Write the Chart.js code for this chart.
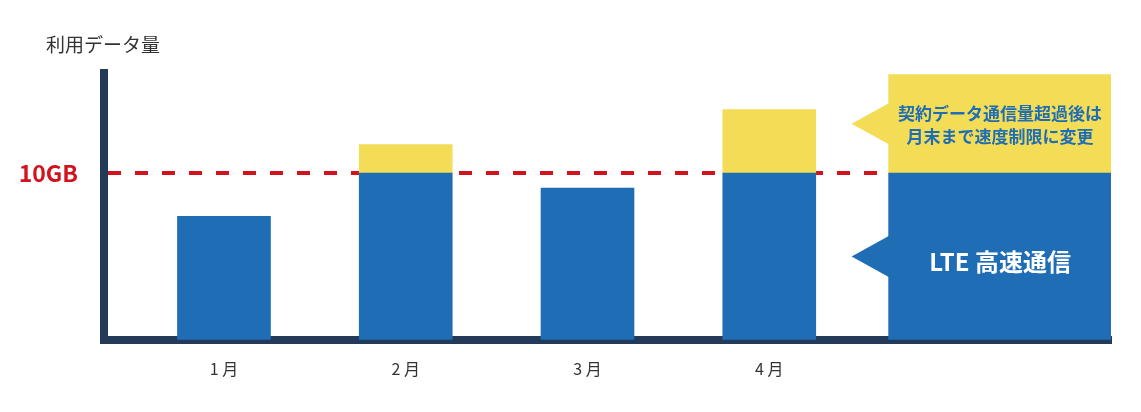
<!DOCTYPE html>
<html lang="ja">
<head>
<meta charset="utf-8">
<title>利用データ量</title>
<script src="https://cdn.jsdelivr.net/npm/chart.js@4.4.1/dist/chart.umd.min.js"></script>
<style>
  html, body { margin: 0; padding: 0; background: #fff; }
  #wrap { width: 1141px; height: 412px; }
</style>
</head>
<body>
<div id="wrap"><canvas id="usageChart"></canvas></div>
<script>
// データ (GB)
const MONTHS = ['1 月', '2 月', '3 月', '4 月'];
const USAGE = [7.4, 11.7, 9.1, 13.8];
const LIMIT = 10;
const LIMIT_LABEL = '10GB';
const AXIS_TITLE = '利用データ量';

// 凡例バー
const LEGEND_X = 5.27;
const LEGEND_HIGH = 10;
const LEGEND_SLOW = 5.9;
const LEGEND_HIGH_TEXT = ['LTE 高速通信'];
const LEGEND_SLOW_TEXT = ['契約データ通信量超過後は', '月末まで速度制限に変更'];

const BLUE = '#1f6db5';
const YELLOW = '#f4dd56';
const NAVY = '#243a59';
const RED = '#d2121c';
const FONT = '"Noto Sans CJK JP", "Noto Sans", sans-serif';

const highSpeed = USAGE.map((v, i) => ({ x: i + 1, y: Math.min(v, LIMIT) }));
const throttled = USAGE.map((v, i) => ({ x: i + 1, y: v > LIMIT ? v - LIMIT : null }));

// 凡例バーの吹き出しとテキスト
const calloutPlugin = {
  id: 'callout',
  afterDatasetsDraw(chart) {
    const ctx = chart.ctx;
    const items = [
      { index: 2, color: BLUE, lines: LEGEND_HIGH_TEXT, textColor: '#fff', font: 'bold 24px ' + FONT, shift: 5 },
      { index: 3, color: YELLOW, lines: LEGEND_SLOW_TEXT, textColor: BLUE, font: 'bold 17px ' + FONT, shift: 1 }
    ];
    items.forEach(item => {
      const el = chart.getDatasetMeta(item.index).data[0];
      if (!el) return;
      const { x, y, base, width } = el.getProps(['x', 'y', 'base', 'width'], true);
      const left = x - width / 2;
      const mid = (y + base) / 2;
      ctx.save();
      ctx.fillStyle = item.color;
      ctx.beginPath();
      ctx.moveTo(left + 1, mid - 21);
      ctx.lineTo(left - 37, mid);
      ctx.lineTo(left + 1, mid + 21);
      ctx.closePath();
      ctx.fill();

      ctx.fillStyle = item.textColor;
      ctx.font = item.font;
      ctx.textAlign = 'center';
      ctx.textBaseline = 'middle';
      const lh = 23;
      const startY = mid + item.shift - (item.lines.length - 1) * lh / 2;
      item.lines.forEach((line, i) => ctx.fillText(line, x, startY + i * lh));
      ctx.restore();
    });
  }
};

// 軸タイトル（左上）
const axisTitlePlugin = {
  id: 'axisTitle',
  afterDraw(chart) {
    const ctx = chart.ctx;
    ctx.save();
    ctx.fillStyle = '#333';
    ctx.font = '19px ' + FONT;
    ctx.textAlign = 'left';
    ctx.textBaseline = 'middle';
    ctx.fillText(AXIS_TITLE, chart.chartArea.left - 58, 45);
    ctx.restore();
  }
};

new Chart(document.getElementById('usageChart').getContext('2d'), {
  type: 'bar',
  data: {
    datasets: [
      { label: 'LTE 高速通信', data: highSpeed, backgroundColor: BLUE, barThickness: 93 },
      { label: '速度制限', data: throttled, backgroundColor: YELLOW, barThickness: 93 },
      { label: 'legend-high', data: [{ x: LEGEND_X, y: LEGEND_HIGH }], backgroundColor: BLUE, barThickness: 223 },
      { label: 'legend-slow', data: [{ x: LEGEND_X, y: LEGEND_SLOW }], backgroundColor: YELLOW, barThickness: 223 }
    ]
  },
  options: {
    responsive: true,
    maintainAspectRatio: false,
    animation: false,
    layout: { padding: { left: 0, right: 30, top: 73, bottom: 13 } },
    plugins: {
      legend: { display: false },
      tooltip: { enabled: false },
      title: { display: false }
    },
    scales: {
      x: {
        type: 'linear',
        min: 0.34,
        max: 5.88,
        offset: false,
        stacked: true,
        z: 1,
        grid: { display: false, drawTicks: false },
        border: { display: true, color: NAVY, width: 8 },
        afterBuildTicks: s => { s.ticks = MONTHS.map((m, i) => ({ value: i + 1 })); },
        ticks: {
          autoSkip: false,
          maxRotation: 0,
          padding: 20,
          color: '#333',
          font: { family: FONT, size: 16 },
          callback: v => MONTHS[Math.round(v) - 1]
        }
      },
      y: {
        min: 0,
        max: 16,
        stacked: true,
        z: 1,
        afterBuildTicks: s => { s.ticks = [{ value: LIMIT }]; },
        afterFit: s => { s.width = 104; },
        grid: { color: RED, lineWidth: 4, drawTicks: false },
        border: { color: NAVY, width: 8, dash: [13, 14] },
        ticks: {
          padding: 26,
          color: RED,
          font: { family: FONT, size: 23, weight: 'bold' },
          callback: () => LIMIT_LABEL
        }
      }
    }
  },
  plugins: [calloutPlugin, axisTitlePlugin]
});
</script>
</body>
</html>
